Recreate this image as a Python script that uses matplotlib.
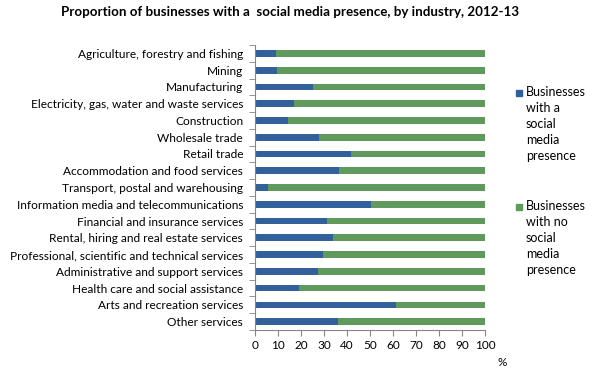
import matplotlib
matplotlib.use("Agg")
import matplotlib.pyplot as plt
from matplotlib.patches import Rectangle
import numpy as np

plt.rcParams['font.family'] = ['Lato', 'DejaVu Sans']

categories = [
    "Agriculture, forestry and fishing", "Mining", "Manufacturing",
    "Electricity, gas, water and waste services", "Construction",
    "Wholesale trade", "Retail trade", "Accommodation and food services",
    "Transport, postal and warehousing",
    "Information media and telecommunications",
    "Financial and insurance services",
    "Rental, hiring and real estate services",
    "Professional, scientific and technical services",
    "Administrative and support services",
    "Health care and social assistance",
    "Arts and recreation services", "Other services",
]
with_sm = [9.3, 9.7, 25.3, 17.1, 14.5, 28.0, 41.9, 36.7, 5.8,
           50.6, 31.4, 34.0, 29.7, 27.5, 19.3, 61.4, 36.2]
without_sm = [100 - v for v in with_sm]
series_labels = ["Businesses\nwith a\nsocial\nmedia\npresence",
                 "Businesses\nwith no\nsocial\nmedia\npresence"]
colors = ["#31609a", "#60995c"]
xticks = list(range(0, 101, 10))

fig = plt.figure(figsize=(5.93, 3.75), dpi=100)
ax = fig.add_axes([255/593, 1-330/375, 230/593, 285/375])
y = np.arange(len(categories))
ax.barh(y, with_sm, height=0.4, color=colors[0])
ax.barh(y, without_sm, left=with_sm, height=0.4, color=colors[1])
ax.set_ylim(len(categories)-0.5, -0.5)
ax.set_xlim(0, 100)
ax.set_xticks(xticks)
ax.set_xticklabels([str(t) for t in xticks], fontsize=8.5)
ax.set_yticks(y)
ax.set_yticklabels(categories, fontsize=8.6)
ax.tick_params(axis='y', length=0, pad=8.6)
ax.set_yticks(np.arange(-0.5, len(categories), 1), minor=True)
ax.tick_params(axis='y', which='minor', length=4, color='#868686')
ax.tick_params(axis='x', length=4, color='#868686', pad=3)
for s in ['top', 'right']:
    ax.spines[s].set_visible(False)
for s in ['left', 'bottom']:
    ax.spines[s].set_color('#868686')
fig.text(502/593, 1-363/375, "%", fontsize=8.5, ha='center', va='center')
fig.text(290/593, 1-12/375, "Proportion of businesses with a  social media presence, by industry, 2012-13",
         fontsize=9.6, fontweight='bold', ha='center', va='center')

for i, (lab, col) in enumerate(zip(series_labels, colors)):
    ytop = [93, 207][i]
    fig.add_artist(Rectangle((516/593, 1-(ytop+3)/375), 6/593, 6/375,
                             transform=fig.transFigure, color=col))
    fig.text(526/593, 1-(ytop-7)/375, lab, fontsize=9, ha='left', va='top',
             linespacing=1.4)

fig.savefig("out.png", dpi=100)
